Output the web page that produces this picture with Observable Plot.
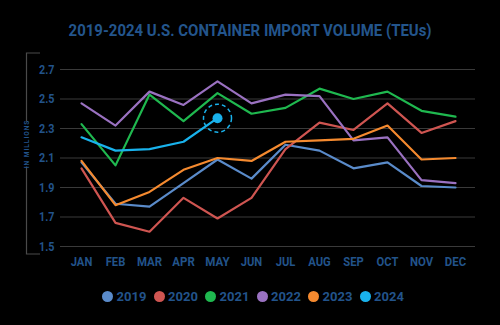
<!DOCTYPE html>
<html>
<head>
<meta charset="utf-8">
<script src="https://cdn.jsdelivr.net/npm/d3@7"></script>
<script src="https://cdn.jsdelivr.net/npm/@observablehq/plot@0.6"></script>
<style>
  html, body { margin: 0; padding: 0; background: #000; }
  body { width: 500px; height: 325px; position: relative; overflow: hidden;
         font-family: 'Roboto', sans-serif; font-weight: bold; }
  #title { height: 50px; box-sizing: border-box; padding-top: 22px; text-align: center;
           line-height: 1; color: #23558c; white-space: nowrap; }
  #title span { display: inline-block; font-size: 17.4px; transform-origin: center; }
  #chart { height: 225px; }
  #legend { position: absolute; top: 290px; left: 0; width: 500px; height: 13px; display: flex;
            justify-content: center; align-items: center; gap: 13px; }
  .item { display: inline-flex; align-items: center; gap: 3.5px; font-size: 13px; color: #22538a; line-height: 1; }
  .item .lbl { display: inline-block; width: 24px; overflow: visible; }
  .sw { width: 11px; height: 11px; border-radius: 50%; display: inline-block; }
</style>
</head>
<body>
<div id="title"><span id="ttext">2019-2024 U.S. CONTAINER IMPORT VOLUME (TEUs)</span></div>
<div id="chart"></div>
<div id="legend"></div>
<script>
const months = ["JAN","FEB","MAR","APR","MAY","JUN","JUL","AUG","SEP","OCT","NOV","DEC"];
const years = ["2019","2020","2021","2022","2023","2024"];
const colors = ["#5a8bca","#cf5551","#1fb84f","#9a71c1","#f58a2f","#19b2ec"];
const yTicks = [1.5, 1.7, 1.9, 2.1, 2.3, 2.5, 2.7];
const yLabel = "IN MILLIONS";

const v2019 = [2.07, 1.79, 1.77, 1.93, 2.09, 1.96, 2.19, 2.15, 2.03, 2.07, 1.91, 1.90];
const v2020 = [2.03, 1.66, 1.60, 1.83, 1.69, 1.83, 2.16, 2.34, 2.29, 2.47, 2.27, 2.35];
const v2021 = [2.33, 2.05, 2.53, 2.35, 2.54, 2.40, 2.44, 2.57, 2.50, 2.55, 2.42, 2.38];
const v2022 = [2.47, 2.32, 2.55, 2.46, 2.62, 2.47, 2.53, 2.52, 2.22, 2.24, 1.95, 1.93];
const v2023 = [2.08, 1.78, 1.87, 2.02, 2.10, 2.08, 2.21, 2.22, 2.23, 2.32, 2.09, 2.10];
const v2024 = [2.24, 2.15, 2.16, 2.21, 2.37];

const series = [v2019, v2020, v2021, v2022, v2023, v2024];
const data = years.flatMap((yr, i) => series[i].map((v, j) => ({month: months[j], value: v, year: yr})));
const latest = data.filter(d => d.year === "2024").slice(-1);

const FONT = "'Roboto', sans-serif";
const chart = Plot.plot({
  width: 500,
  height: 225,
  marginLeft: 60,
  marginRight: 25,
  marginTop: 19,
  marginBottom: 29,
  style: {background: "transparent", color: "#22538a", fontFamily: FONT, fontWeight: "bold", fontSize: "13px"},
  x: {type: "point", domain: months, padding: 0.5, label: null},
  y: {domain: [1.5, 2.7], label: null},
  color: {domain: years, range: colors},
  marks: [
    Plot.ruleY(yTicks, {stroke: "#3a3a3a", strokeWidth: 1}),
    Plot.axisX({tickSize: 0, tickPadding: 10, label: null, fontSize: 13}),
    Plot.axisY(yTicks, {tickSize: 0, tickPadding: 6, tickFormat: d3.format(".1f"), label: null, fontSize: 12.5}),
    Plot.line(data, {x: "month", y: "value", stroke: "year", z: "year", strokeWidth: 2.2}),
    Plot.dot(latest, {x: "month", y: "value", r: 14, fill: "none", stroke: colors[5], strokeWidth: 1.5, strokeDasharray: "4,3"}),
    Plot.dot(latest, {x: "month", y: "value", r: 5, fill: colors[5]})
  ]
});
document.getElementById("chart").appendChild(chart);

// condense tick text horizontally (narrow look of the original)
const svg = d3.select(chart);
svg.selectAll("g[aria-label='x-axis tick label'] text, g[aria-label='y-axis tick label'] text").each(function() {
  const bb = this.getBBox();
  d3.select(this).attr("textLength", bb.width * 0.86).attr("lengthAdjust", "spacingAndGlyphs");
});

// decorative bracket around the y axis, with the unit label in its gap
const ys = chart.scale("y");
const bTop = ys.apply(2.7) - 16, bBot = ys.apply(1.5) + 8;
const bx = 26.5, tx = 40;
const gapMid = bTop + 91, gapHalf = 22.5;
svg.append("path")
  .attr("d", `M${tx},${bTop}H${bx}V${gapMid - gapHalf}M${bx},${gapMid + gapHalf}V${bBot}H${tx}`)
  .attr("fill", "none").attr("stroke", "#4a4a4a").attr("stroke-width", 1.2);
svg.append("text")
  .attr("transform", `translate(${bx + 0.5},${gapMid}) rotate(-90)`)
  .attr("text-anchor", "middle")
  .attr("dominant-baseline", "central")
  .attr("font-size", 6.5)
  .attr("letter-spacing", "1px")
  .attr("fill", "#22538a")
  .text(yLabel);

const legend = d3.select("#legend");
years.forEach((yr, i) => {
  const it = legend.append("span").attr("class", "item");
  it.append("span").attr("class", "sw").style("background", colors[i]);
  it.append("span").attr("class", "lbl").text(yr);
});

// fit title to the original's width
const tt = document.getElementById("ttext");
const w = tt.getBoundingClientRect().width;
tt.style.transform = `scaleX(${363 / w})`;
</script>
</body>
</html>
